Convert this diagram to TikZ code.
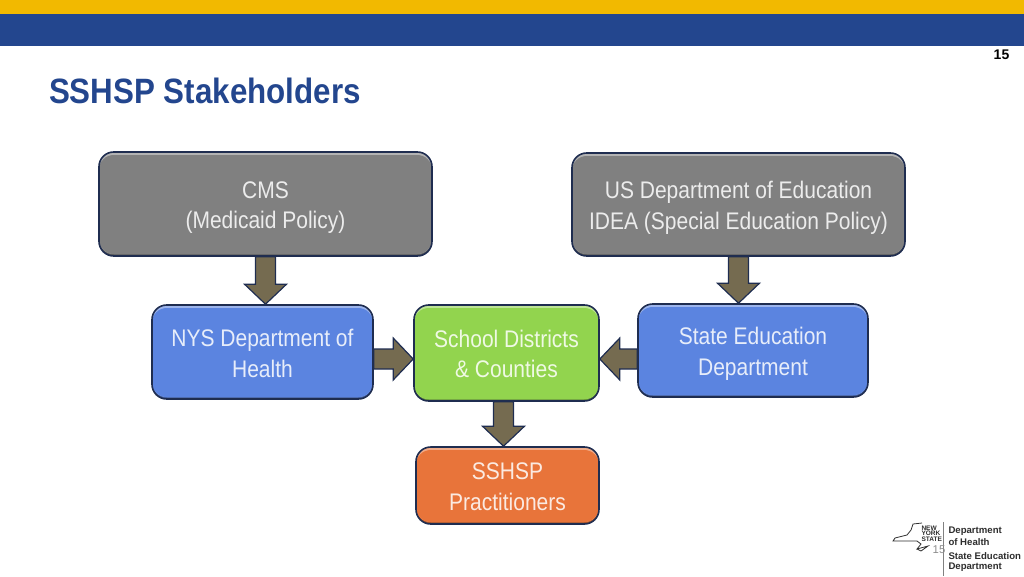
\documentclass[tikz,border=0pt]{standalone}
\usepackage{fontspec}
\setmainfont{Liberation Sans}
\newfontfamily\boxfont[FakeStretch=0.875]{Liberation Sans}
\newfontfamily\titlefont[FakeStretch=0.89]{Liberation Sans}
\usetikzlibrary{calc}
\definecolor{bandyellow}{RGB}{242,185,0}
\definecolor{bandblue}{RGB}{35,70,142}
\definecolor{boxedge}{RGB}{31,45,80}
\definecolor{cmsgray}{RGB}{128,128,128}
\definecolor{nysblue}{RGB}{91,132,224}
\definecolor{schoolgreen}{RGB}{146,212,78}
\definecolor{sshsporange}{RGB}{232,116,58}
\definecolor{flowfill}{RGB}{117,107,80}
\definecolor{logotext}{RGB}{45,45,45}
\newcommand{\boxdrop}[1]{\rule{0pt}{\dimexpr 13.3pt+2\dimexpr#1\relax\relax}}
\tikzset{every picture/.style={line width=0.75pt}}
\tikzset{
  stakebox/.style={draw=boxedge,line width=1.2pt,rounded corners=11pt,align=center,text=white!85!#1,
    inner sep=0pt,font=\boxfont\fontsize{18pt}{23pt}\selectfont,
    path picture={
      \fill [#1!60!white,rounded corners=11pt] (path picture bounding box.north west) rectangle ([yshift=1.5pt]path picture bounding box.south east);
      \fill [#1,rounded corners=11pt] ([yshift=-2.25pt]path picture bounding box.north west) rectangle ([yshift=1.5pt]path picture bounding box.south east);
      },fill=#1!72!black},
  logoline/.style={anchor=west,inner sep=0pt,text=logotext,font=\bfseries\fontsize{7.2pt}{8pt}\selectfont},
  logostate/.style={anchor=west,inner sep=0pt,text=logotext,font=\bfseries\fontsize{4.9pt}{5pt}\selectfont},
  flow/.style={draw=boxedge,fill=flowfill,line width=0.9pt,line join=miter,to path={
    -- ($(\tikztostart)!7.5pt!90:(\tikztotarget)$)
    -- ($($(\tikztotarget)!15pt!(\tikztostart)$)!7.5pt!90:(\tikztotarget)$)
    -- ($($(\tikztotarget)!15pt!(\tikztostart)$)!15.75pt!90:(\tikztotarget)$)
    -- (\tikztotarget)
    -- ($($(\tikztotarget)!15pt!(\tikztostart)$)!15.75pt!-90:(\tikztotarget)$)
    -- ($($(\tikztotarget)!15pt!(\tikztostart)$)!7.5pt!-90:(\tikztotarget)$)
    -- ($(\tikztostart)!7.5pt!-90:(\tikztotarget)$) -- cycle}}
}
\begin{document}
\begin{tikzpicture}[x=0.75pt,y=0.75pt,yscale=-1,xscale=1]
    \useasboundingbox (0,0) rectangle (1024,576);

    %Bands
    \fill [bandyellow] (0,0) rectangle (1024,13.5);
    \fill [bandblue] (0,13.5) rectangle (1024,45.5);

    % Text Node
    \node (title) at (48.5,91) [anchor=west,inner sep=0pt,text=bandblue,font=\titlefont\bfseries\fontsize{26.4pt}{30pt}\selectfont] {SSHSP Stakeholders};
    \node (pagenum) at (1001.5,54.5) [inner sep=0pt,font=\bfseries\fontsize{10.5pt}{12pt}\selectfont] {15};

    %Boxes
    \node (cms) at (265.5,204) [stakebox=cmsgray,minimum width=249.75pt,minimum height=78pt] {\boxdrop{2.25pt}CMS\\(Medicaid Policy)};
    \node (usdoe) at (738.5,204.5) [stakebox=cmsgray,minimum width=249.75pt,minimum height=77.25pt] {\boxdrop{2.25pt}US Department of Education\\IDEA (Special Education Policy)};
    \node (nysdoh) at (262.5,352) [stakebox=nysblue,minimum width=165.75pt,minimum height=70.5pt] {\boxdrop{0.75pt}NYS Department of\\Health};
    \node (school) at (506.5,353) [stakebox=schoolgreen,minimum width=138.75pt,minimum height=72pt] {\boxdrop{0.5pt}School Districts\\\& Counties};
    \node (sed) at (753,350.5) [stakebox=nysblue,minimum width=172.5pt,minimum height=69.75pt] {\boxdrop{2.25pt}State Education\\Department};
    \node (sshsp) at (507.5,485.5) [stakebox=sshsporange,minimum width=137.25pt,minimum height=57.75pt] {\boxdrop{0.75pt}SSHSP\\Practitioners};

    %Block arrows
    \coordinate (cmsend) at (cms.south |- nysdoh.north);
    \coordinate (usdoeend) at (usdoe.south |- sed.north);
    \coordinate (schoolleft) at ([yshift=4.5pt]school.west);
    \coordinate (schoolright) at ([yshift=4.5pt]school.east);
    \coordinate (nysstart) at (nysdoh.east |- schoolleft);
    \coordinate (sedstart) at (sed.west |- schoolright);
    \draw [flow] (cms.south) to (cmsend);
    \draw [flow] (usdoe.south) to (usdoeend);
    \draw [flow] (nysstart) to (schoolleft);
    \draw [flow] (sedstart) to (schoolright);
    \draw [flow] ([xshift=-2.25pt]school.south) to ([xshift=-2.25pt]school.south |- sshsp.north);

    %Logo
    \draw [logotext,line width=0.6pt] (922,523) -- (913,524) -- (911,530) -- (907,535) -- (895,538) -- (893,541) -- (917,541) -- (921,544) -- (917,549) -- (928,546) -- (921,551) -- (917,549);
    \draw [logotext!60,line width=0.75pt] (943.5,522) -- (943.5,576);
    \node (logonew) at (921,528) [logostate] {NEW};
    \node (logoyork) at (921,533.5) [logostate] {YORK};
    \node (logostatename) at (921,539.5) [logostate] {STATE};
    \node (logonum) at (939,549.5) [inner sep=0pt,text=black!45,font=\fontsize{8.5pt}{10pt}\selectfont] {15};
    \node (logohealth) at (948,531) [logoline] {Department};
    \node (logohealthb) at (948,542) [logoline] {of Health};
    \node (logosed) at (948,556) [logoline] {State Education};
    \node (logosedb) at (948,567) [logoline] {Department};
\end{tikzpicture}
\end{document}
